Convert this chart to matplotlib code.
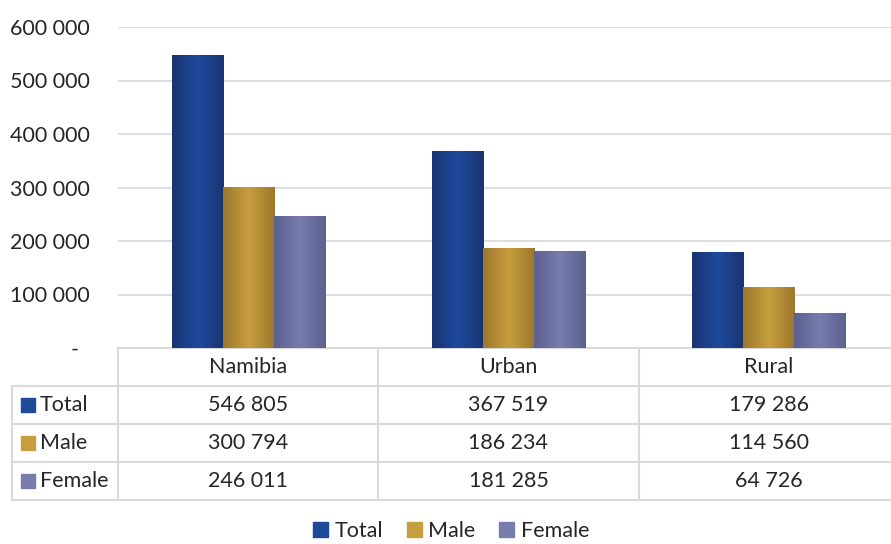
import numpy as np
import matplotlib
matplotlib.use("Agg")
import matplotlib.pyplot as plt
from matplotlib.colors import LinearSegmentedColormap
from matplotlib.patches import Patch
from matplotlib.lines import Line2D
from matplotlib.transforms import blended_transform_factory

categories = ['Namibia', 'Urban', 'Rural']
series = ['Total', 'Male', 'Female']
total = [546805, 367519, 179286]
male = [300794, 186234, 114560]
female = [246011, 181285, 64726]

# base colour, edge (dark) and highlight (light) for each series
colors = {'Total': ('#1F4693', '#1A3472', '#1E4A9C'),
          'Male': ('#C49A3A', '#9C772C', '#C79E3E'),
          'Female': ('#7579A8', '#5D6190', '#777CAC')}

plt.rcParams['font.family'] = ['Lato', 'DejaVu Sans']
text_col = '#262626'
grid_col = '#D9D9D9'
fs = 15.5

W, H = 891, 544
fig = plt.figure(figsize=(W / 100, H / 100), dpi=100)
# plot area runs past the right edge of the picture, like the original
ax = fig.add_axes([118 / W, 1 - 348 / H, (899 - 118) / W, (348 - 27) / H])

def fmt(v):
    return '-  ' if v == 0 else f"{int(v):,}".replace(',', ' ')

x = np.arange(len(categories))
w = 0.196
values = [total, male, female]
for i, (name, vals) in enumerate(zip(series, values)):
    base, dark, light = colors[name]
    bars = ax.bar(x + (i - 1) * w, vals, width=w, color=base, zorder=2)
    cmap = LinearSegmentedColormap.from_list(name, [dark, light, dark])
    grad = np.linspace(0, 1, 200)[None, :]
    for b in bars:
        x0, y0 = b.get_x(), b.get_y()
        im = ax.imshow(grad, cmap=cmap, aspect='auto', zorder=3,
                       extent=[x0, x0 + b.get_width(), y0, y0 + b.get_height()],
                       interpolation='bilinear')
        im.set_clip_path(b)

ax.set_xlim(-0.5, 2.5)
ax.set_ylim(0, 600000)
ax.set_yticks(np.arange(0, 600001, 100000))
ax.yaxis.set_major_formatter(plt.FuncFormatter(lambda v, p: fmt(v)))
ax.tick_params(axis='y', length=0, pad=20, labelsize=fs, labelcolor=text_col)
ax.set_xticks([])
ax.grid(axis='y', color=grid_col, lw=1.2, zorder=0)
for s in ax.spines.values():
    s.set_visible(False)

# data table below the plot
tr = blended_transform_factory(ax.transData, fig.transFigure)
def fy(py):
    return 1 - py / H

row_y = [348, 386, 424, 462, 500]
left_px = 12
bounds = [-0.5, 0.5, 1.5, 2.5]
lkw = dict(color=grid_col, lw=1.5, zorder=1)
ax.add_line(Line2D([bounds[0], bounds[-1]], [fy(348)] * 2, transform=tr, clip_on=False, **lkw))
for b in bounds:
    ax.add_line(Line2D([b, b], [fy(348), fy(500)], transform=tr, clip_on=False, **lkw))
for ry in row_y[1:]:
    fig.add_artist(Line2D([left_px / W, 1.0], [fy(ry)] * 2, **lkw))
fig.add_artist(Line2D([left_px / W] * 2, [fy(386), fy(500)], **lkw))

for j, cat in enumerate(categories):
    ax.text(j, fy((348 + 386) / 2), cat, transform=tr, ha='center', va='center',
            fontsize=fs, color=text_col)
for i, (name, vals) in enumerate(zip(series, values)):
    yc = fy((row_y[i + 1] + row_y[i + 2]) / 2)
    fig.patches.append(plt.Rectangle((21 / W, yc - 7 / H), 14 / W, 14 / H,
                                     transform=fig.transFigure, color=colors[name][2], figure=fig))
    fig.text(40 / W, yc, name, ha='left', va='center', fontsize=fs, color=text_col)
    for j, v in enumerate(vals):
        ax.text(j, yc, fmt(v), transform=tr, ha='center', va='center',
                fontsize=fs, color=text_col)

handles = [Patch(color=colors[n][2], label=n) for n in series]
fig.legend(handles=handles, loc='center', bbox_to_anchor=(451 / W, fy(531)), ncol=3,
           frameon=False, fontsize=fs, handlelength=0.7, handleheight=0.7,
           handletextpad=0.3, columnspacing=1.1, labelcolor=text_col,
           borderpad=0.1)

fig.savefig('out.png', dpi=100)
